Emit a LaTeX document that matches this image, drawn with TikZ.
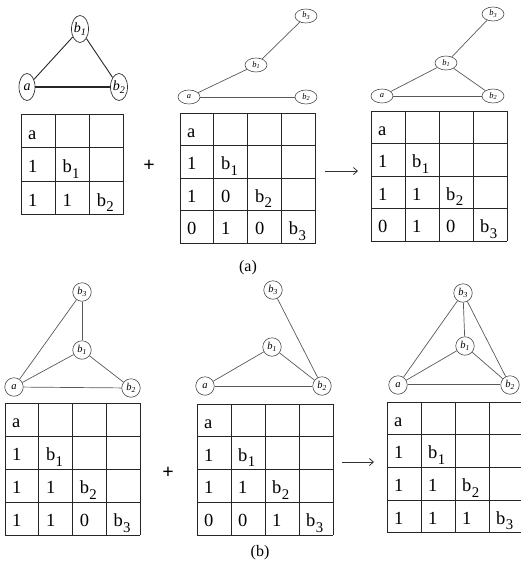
\documentclass[tikz,border=0pt]{standalone}
\usepackage{fontspec}
\usepackage{graphicx}
\setmainfont{Liberation Serif}
\usetikzlibrary{shapes.geometric,arrows.meta}

\newcommand\Bsub[1]{b\kern0.02em\raisebox{-0.3em}{\scalebox{0.8}{#1}}}
\newcommand\Nsub[1]{\textit{b}\raisebox{-0.22em}{\scalebox{0.72}{\textit{#1}}}}

\newcommand\mytab[7]{%
  \foreach \ii in {0,...,#6} {
    \draw[tbl] ({#2+\ii*#4},#3) -- ({#2+\ii*#4},{#3+#6*#5});
    \draw[tbl] (#2,{#3+\ii*#5}) -- ({#2+#6*#4},{#3+\ii*#5});
  }
  \foreach \rr/\cc/\tx in {#7} {
    \node[cell] (#1-\rr-\cc) at ({#2+\cc*#4+7},{#3+(\rr+1)*#5-8.5}) {\tx};
  }
}

\tikzset{
  tbl/.style={draw=black!85, line width=0.9pt},
  cell/.style={anchor=base west, inner sep=0pt, font=\fontsize{18.5}{18.5}\selectfont},
  gA/.style={ellipse, draw=black!80, line width=0.7pt, minimum width=16pt, minimum height=27pt, inner sep=0pt, font=\fontsize{14}{14}\selectfont\itshape},
  gS/.style={ellipse, draw=black!70, line width=0.6pt, minimum width=22pt, minimum height=14pt, inner sep=0pt, font=\fontsize{8.5}{8.5}\selectfont\itshape},
  gB/.style={circle, draw=black!70, line width=0.6pt, minimum size=18.5pt, inner sep=0pt, font=\fontsize{10.5}{10.5}\selectfont\itshape},
  edgeA/.style={draw=black!85, line width=0.9pt},
  edgeS/.style={draw=black!65, line width=0.7pt},
  arr/.style={draw=black!80, line width=0.8pt, -{Straight Barb[length=4pt,width=7pt]}},
  plus/.style={font=\fontsize{20}{20}\selectfont\bfseries, inner sep=0pt},
  captxt/.style={font=\fontsize{16}{16}\selectfont, inner sep=0pt}
}

\begin{document}
\begin{tikzpicture}[x=1pt,y=-1pt]
\useasboundingbox (0,0) rectangle (520,568);

% ---------- (a) left graph ----------
\node[gA] (a1)  at (27,87) {a};
\node[gA] (a1b1) at (80,29) {\Nsub{1}};
\node[gA] (a1b2) at (119,87) {\Nsub{2}};
\draw[edgeA] (a1) -- (a1b1);
\draw[edgeA] (a1b1) -- (a1b2);
\draw[edgeA, line width=1.4pt] (a1) -- (a1b2);

\mytab{ta1}{21}{114}{34.3}{33.5}{3}{0/0/a, 1/0/1, 1/1/\Bsub{1}, 2/0/1, 2/1/1, 2/2/\Bsub{2}}

\node[plus] (p1) at (149,166) {+};

% ---------- (a) middle graph ----------
\node[gS] (a2)   at (189,97) {a};
\node[gS] (a2b1) at (256,65) {\Nsub{1}};
\node[gS] (a2b2) at (306,97) {\Nsub{2}};
\node[gS] (a2b3) at (306,16) {\Nsub{3}};
\draw[edgeS] (a2) -- (a2b1);
\draw[edgeS] (a2b1) -- (a2b3);
\draw[edgeS] (a2) -- (a2b2);

\mytab{ta2}{180}{113}{33.9}{32.5}{4}{0/0/a, 1/0/1, 1/1/\Bsub{1}, 2/0/1, 2/1/0, 2/2/\Bsub{2}, 3/0/0, 3/1/1, 3/2/0, 3/3/\Bsub{3}}

\coordinate (arA1) at (325,171);
\coordinate (arA2) at (358,171);
\draw[arr] (arA1) -- (arA2);

% ---------- (a) right graph ----------
\node[gS] (a3)   at (382,96) {a};
\node[gS] (a3b1) at (446,63) {\Nsub{1}};
\node[gS] (a3b2) at (493,96) {\Nsub{2}};
\node[gS] (a3b3) at (493,14) {\Nsub{3}};
\draw[edgeS] (a3) -- (a3b1);
\draw[edgeS] (a3b1) -- (a3b3);
\draw[edgeS] (a3b1) -- (a3b2);
\draw[edgeS] (a3) -- (a3b2);

\mytab{ta3}{371}{111}{34}{32.5}{4}{0/0/a, 1/0/1, 1/1/\Bsub{1}, 2/0/1, 2/1/1, 2/2/\Bsub{2}, 3/0/0, 3/1/1, 3/2/0, 3/3/\Bsub{3}}

\node[captxt] (capa) at (248,268) {(a)};

% ---------- (b) left graph ----------
\node[gB] (b1)   at (14,387) {a};
\node[gB] (b1b1) at (82,350) {\Nsub{1}};
\node[gB] (b1b2) at (131,388) {\Nsub{2}};
\node[gB] (b1b3) at (82,292) {\Nsub{3}};
\draw[edgeS] (b1) -- (b1b3);
\draw[edgeS] (b1b3) -- (b1b1);
\draw[edgeS] (b1) -- (b1b1);
\draw[edgeS] (b1b1) -- (b1b2);
\draw[edgeS] (b1) -- (b1b2);

\mytab{tb1}{5}{403}{33.8}{33}{4}{0/0/a, 1/0/1, 1/1/\Bsub{1}, 2/0/1, 2/1/1, 2/2/\Bsub{2}, 3/0/1, 3/1/1, 3/2/0, 3/3/\Bsub{3}}

\node[plus] (p2) at (168,473) {+};

% ---------- (b) middle graph ----------
\node[gB] (b2)   at (205,386) {a};
\node[gB] (b2b1) at (272,347) {\Nsub{1}};
\node[gB] (b2b2) at (322,386) {\Nsub{2}};
\node[gB] (b2b3) at (273,290) {\Nsub{3}};
\draw[edgeS] (b2) -- (b2b1);
\draw[edgeS] (b2b1) -- (b2b2);
\draw[edgeS] (b2) -- (b2b2);
\draw[edgeS] (b2b3) -- (b2b2);

\mytab{tb2}{197}{404}{34}{32.8}{4}{0/0/a, 1/0/1, 1/1/\Bsub{1}, 2/0/1, 2/1/1, 2/2/\Bsub{2}, 3/0/0, 3/1/0, 3/2/1, 3/3/\Bsub{3}}

\coordinate (arB1) at (342,462);
\coordinate (arB2) at (374,462);
\draw[arr] (arB1) -- (arB2);

% ---------- (b) right graph ----------
\node[gB] (b3)   at (398,385) {a};
\node[gB] (b3b1) at (465,346) {\Nsub{1}};
\node[gB] (b3b2) at (510,385) {\Nsub{2}};
\node[gB] (b3b3) at (463,293) {\Nsub{3}};
\draw[edgeS] (b3) -- (b3b3);
\draw[edgeS] (b3b3) -- (b3b1);
\draw[edgeS] (b3b3) -- (b3b2);
\draw[edgeS] (b3) -- (b3b1);
\draw[edgeS] (b3b1) -- (b3b2);
\draw[edgeS, double=white, double distance=0.9pt, line width=0.5pt] (b3) -- (b3b2);

\mytab{tb3}{387}{402}{34}{32.7}{4}{0/0/a, 1/0/1, 1/1/\Bsub{1}, 2/0/1, 2/1/1, 2/2/\Bsub{2}, 3/0/1, 3/1/1, 3/2/1, 3/3/\Bsub{3}}

\node[captxt] (capb) at (260,553) {(b)};
\end{tikzpicture}
\end{document}
